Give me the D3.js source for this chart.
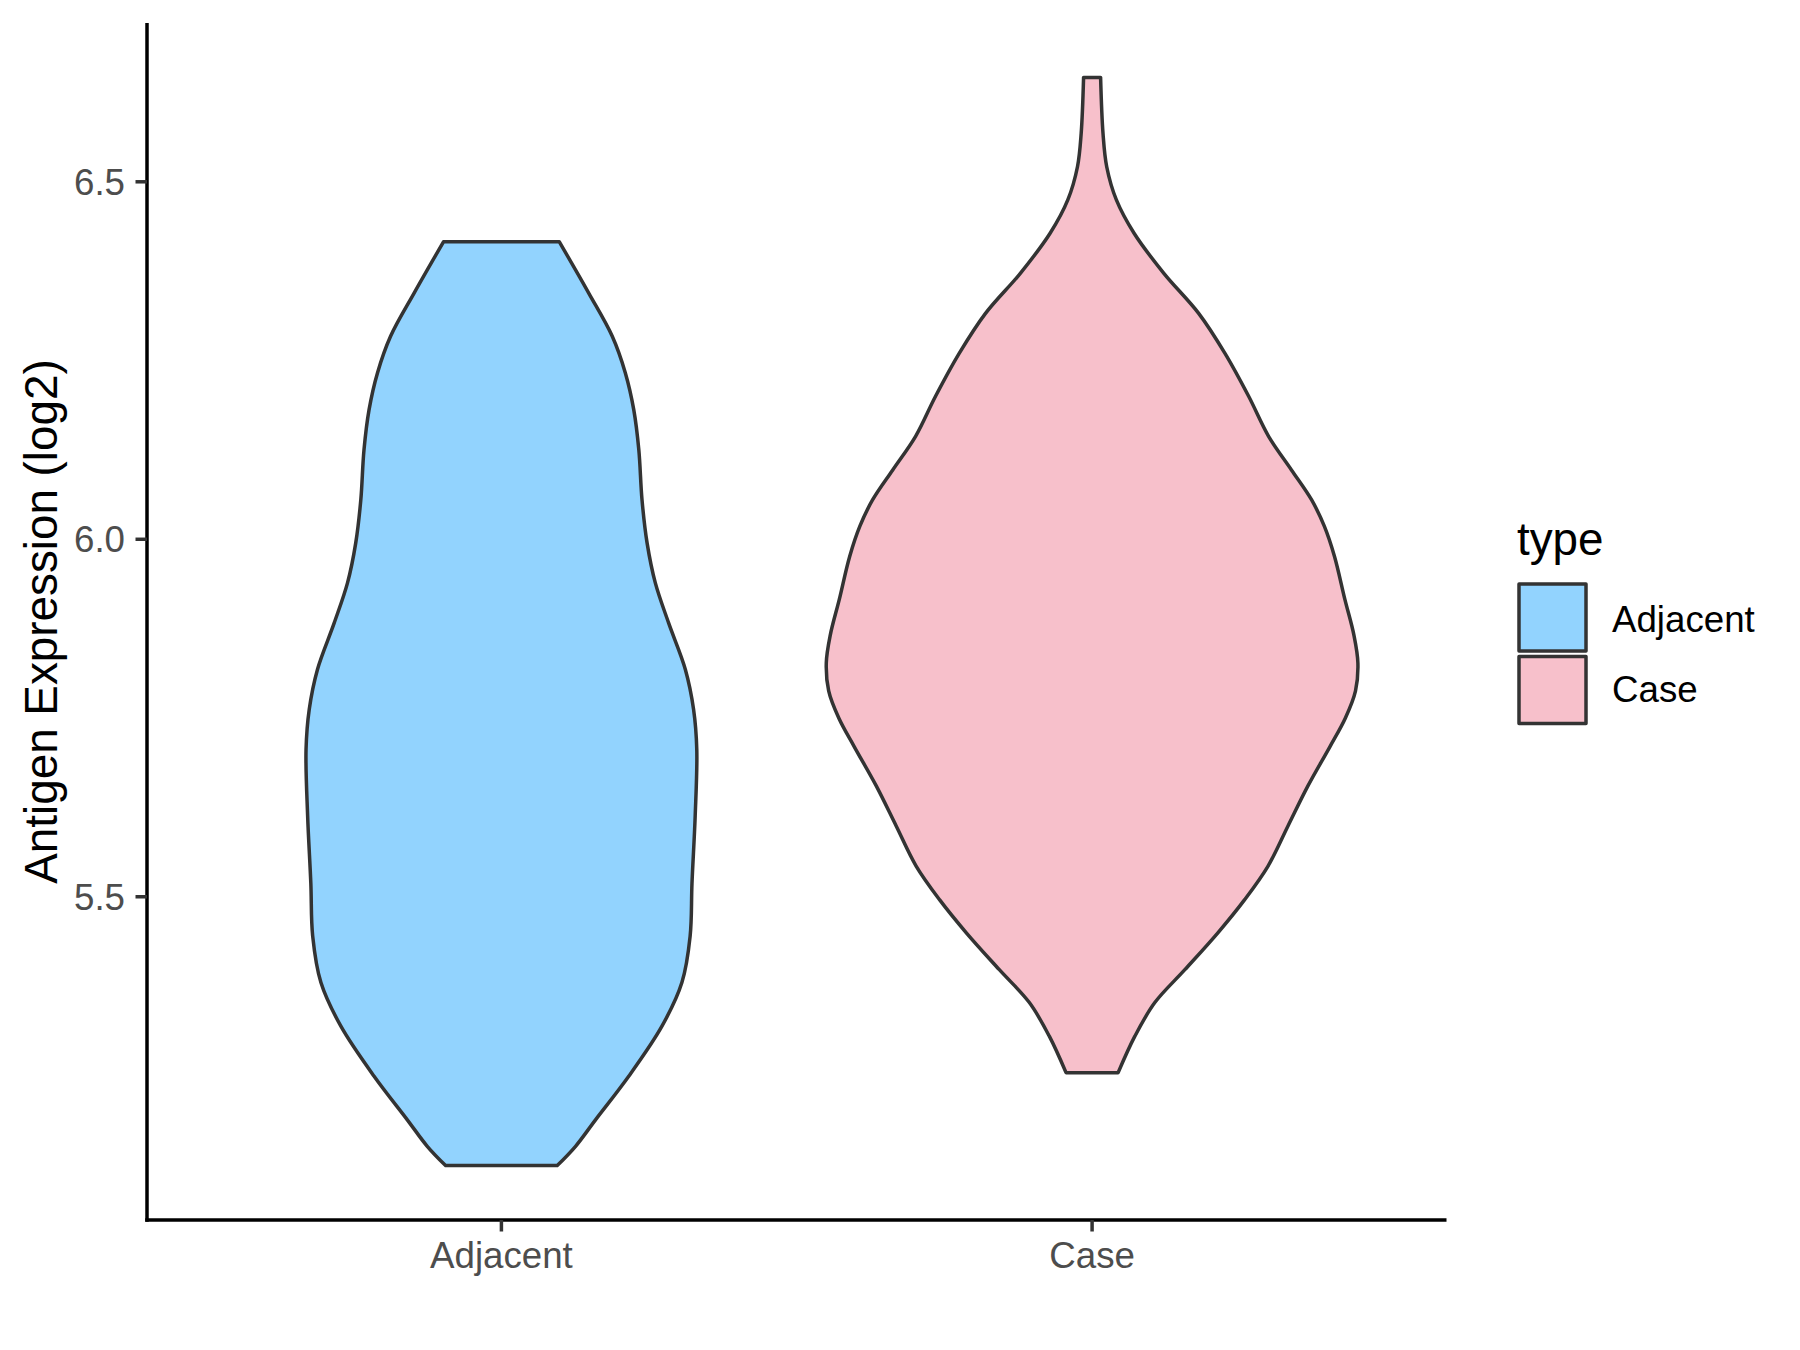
<!DOCTYPE html>
<html>
<head>
<meta charset="utf-8">
<script src="https://cdn.jsdelivr.net/npm/d3@7"></script>
<style>
  body { margin: 0; background: #ffffff; }
  text { font-family: "Liberation Sans", Arial, sans-serif; }
</style>
</head>
<body>
<div id="canvas"></div>
<script>
"use strict"

/* Data: value (log2) and relative density (1 = widest violin) */
let categories = ["Adjacent", "Case"];
let fillColors = ["#92D3FE", "#F7C0CB"];

let adjacentValues  = [5.124, 5.151, 5.188, 5.249, 5.319, 5.380, 5.445, 5.519, 5.613, 5.706, 5.762, 5.818, 5.883, 5.939, 5.995, 6.055, 6.125, 6.181, 6.233, 6.284, 6.344, 6.416];
let adjacentDensity = [0.210, 0.279, 0.354, 0.479, 0.604, 0.679, 0.710, 0.717, 0.729, 0.735, 0.723, 0.692, 0.629, 0.579, 0.548, 0.529, 0.517, 0.498, 0.466, 0.417, 0.329, 0.218];

let caseValues  = [5.254, 5.305, 5.352, 5.398, 5.450, 5.496, 5.543, 5.599, 5.655, 5.710, 5.750, 5.788, 5.827, 5.866, 5.916, 5.976, 6.018, 6.055, 6.097, 6.144, 6.200, 6.260, 6.316, 6.372, 6.428, 6.475, 6.521, 6.568, 6.646];
let caseDensity = [0.098, 0.161, 0.236, 0.349, 0.474, 0.574, 0.662, 0.737, 0.812, 0.895, 0.953, 0.991, 1.000, 0.985, 0.951, 0.912, 0.874, 0.826, 0.750, 0.664, 0.589, 0.500, 0.401, 0.270, 0.158, 0.091, 0.055, 0.041, 0.032];

let yTicks = [5.5, 6.0, 6.5];

/* Drawing canvas */
let drawing = d3.select("#canvas")
    .append("svg")
    .attr("width", 1800)
    .attr("height", 1350);

let panelLeft = 147, panelRight = 1446.5, panelTop = 23, panelBottom = 1220;

/* y scale: data range expanded by 5% like ggplot */
let allValues = adjacentValues.concat(caseValues);
let lo = d3.min(allValues), hi = d3.max(allValues);
let pad = (hi - lo) * 0.05;
let y = d3.scaleLinear().domain([lo - pad, hi + pad]).range([panelBottom, panelTop]);

/* x scale: discrete with 0.6 expansion */
let x = d3.scalePoint().domain(categories).range([panelLeft, panelRight]).padding(0.6);
let halfMax = 0.45 * x.step();

let violins = [
    { name: "Adjacent", values: adjacentValues, density: adjacentDensity, fill: fillColors[0] },
    { name: "Case", values: caseValues, density: caseDensity, fill: fillColors[1] }
];

/* Violins */
violins.forEach(function (v) {
    let pts = v.values.map(function (val, i) { return [val, v.density[i]]; });
    let cx = x(v.name);
    let area = d3.area()
        .y(function (d) { return y(d[0]); })
        .x0(function (d) { return cx - d[1] * halfMax; })
        .x1(function (d) { return cx + d[1] * halfMax; })
        .curve(d3.curveCatmullRom.alpha(0.5));
    drawing.append("path")
        .attr("d", area(pts))
        .attr("fill", v.fill)
        .attr("stroke", "#333333")
        .attr("stroke-width", 3.5)
        .attr("stroke-linejoin", "round");
});

/* y axis */
drawing.append("line")
    .attr("x1", panelLeft).attr("x2", panelLeft)
    .attr("y1", panelTop).attr("y2", panelBottom + 1.75)
    .attr("stroke", "black")
    .attr("stroke-width", 3.5);

yTicks.forEach(function (t) {
    drawing.append("line")
        .attr("x1", panelLeft - 11.5).attr("x2", panelLeft)
        .attr("y1", y(t)).attr("y2", y(t))
        .attr("stroke", "#333333")
        .attr("stroke-width", 3.5);
    drawing.append("text")
        .attr("x", panelLeft - 22)
        .attr("y", y(t))
        .attr("dy", "0.36em")
        .attr("text-anchor", "end")
        .attr("font-size", 36.7)
        .attr("fill", "#4d4d4d")
        .text(t.toFixed(1));
});

/* x axis */
drawing.append("line")
    .attr("x1", panelLeft - 1.75).attr("x2", panelRight)
    .attr("y1", panelBottom).attr("y2", panelBottom)
    .attr("stroke", "black")
    .attr("stroke-width", 3.5);

categories.forEach(function (c) {
    drawing.append("line")
        .attr("x1", x(c)).attr("x2", x(c))
        .attr("y1", panelBottom).attr("y2", panelBottom + 11.5)
        .attr("stroke", "#333333")
        .attr("stroke-width", 3.5);
    drawing.append("text")
        .attr("x", x(c))
        .attr("y", 1268)
        .attr("text-anchor", "middle")
        .attr("font-size", 36.7)
        .attr("fill", "#4d4d4d")
        .text(c);
});

/* axis title */
drawing.append("text")
    .attr("transform", "translate(56.5," + ((panelTop + panelBottom) / 2) + ") rotate(-90)")
    .attr("text-anchor", "middle")
    .attr("font-size", 45.8)
    .attr("fill", "black")
    .text("Antigen Expression (log2)");

/* Legend */
drawing.append("text")
    .attr("x", 1517)
    .attr("y", 555)
    .attr("font-size", 45.8)
    .attr("fill", "black")
    .text("type");

categories.forEach(function (c, i) {
    drawing.append("rect")
        .attr("x", 1519)
        .attr("y", 584 + i * 72.5)
        .attr("width", 67)
        .attr("height", 67)
        .attr("fill", fillColors[i])
        .attr("stroke", "#333333")
        .attr("stroke-width", 3.5)
        .attr("stroke-linejoin", "round");
    drawing.append("text")
        .attr("x", 1612)
        .attr("y", 631.5 + i * 70)
        .attr("font-size", 36.7)
        .attr("fill", "black")
        .text(c);
});
</script>
</body>
</html>
